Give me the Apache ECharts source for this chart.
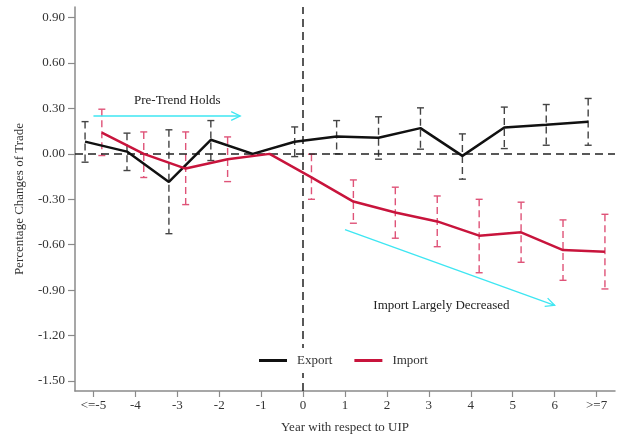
<!DOCTYPE html>
<html>
<head>
<meta charset="utf-8">
<script src="https://cdn.jsdelivr.net/npm/echarts@6/dist/echarts.min.js"></script>
<style>
  html, body { margin: 0; padding: 0; background: #fff; }
  #chart { width: 617px; height: 439px; }
</style>
</head>
<body>
<div id="chart"></div>
<script>
// Event-study estimates: years relative to UIP
const years = [-5, -4, -3, -2, -1, 0, 1, 2, 3, 4, 5, 6, 7];
const yearLabels = ['<=-5', '-4', '-3', '-2', '-1', '0', '1', '2', '3', '4', '5', '6', '>=7'];
const yTicks = [-1.5, -1.2, -0.9, -0.6, -0.3, 0, 0.3, 0.6, 0.9];

// Export coefficients with confidence bounds (reference year -1 has none)
const exportCoef = [0.081, 0.015, -0.185, 0.093, 0, 0.080, 0.114, 0.106, 0.170, -0.013, 0.174, 0.192, 0.212];
const exportLo   = [-0.055, -0.110, -0.527, -0.044, null, -0.018, 0.000, -0.035, 0.031, -0.167, 0.035, 0.057, 0.057];
const exportHi   = [0.213, 0.137, 0.159, 0.220, null, 0.178, 0.220, 0.245, 0.304, 0.132, 0.309, 0.326, 0.366];

// Import coefficients with confidence bounds
const importCoef = [0.141, 0.000, -0.097, -0.035, 0, -0.155, -0.315, -0.387, -0.446, -0.540, -0.518, -0.635, -0.646];
const importLo   = [-0.011, -0.156, -0.335, -0.183, null, -0.300, -0.458, -0.557, -0.613, -0.785, -0.716, -0.835, -0.892];
const importHi   = [0.295, 0.145, 0.145, 0.112, null, -0.002, -0.172, -0.220, -0.278, -0.300, -0.319, -0.436, -0.399];

// Annotation arrows (data coordinates) and their captions
const trendArrow = [[-5, 0.25], [-1.5, 0.25]];
const declineArrow = [[1, -0.5], [6, -1.0]];
const notes = [
  { text: 'Pre-Trend Holds', at: [-3.0, 0.35] },
  { text: 'Import Largely Decreased', at: [3.3, -1.0] }
];

// Horizontal dodge so the two series' intervals do not overlap
const exportShift = -0.2;
const importShift = 0.2;

const FONT = '"Liberation Serif", "DejaVu Serif", serif';
const TEXT = '#333';
const EXPORT_LINE = '#111111';
const IMPORT_LINE = '#c8143c';
const EXPORT_BAR = '#444444';
const IMPORT_BAR = '#df5378';
const ARROW = '#3ee6f2';

function linePoints(coef, shift) {
  return years.map((x, i) => [x + shift, coef[i]]);
}
function barRows(lo, hi, shift) {
  const rows = [];
  years.forEach((x, i) => {
    if (lo[i] !== null && hi[i] !== null) rows.push([x + shift, lo[i], hi[i]]);
  });
  return rows;
}

function errorBarSeries(rows, color) {
  return {
    type: 'custom',
    silent: true,
    z: 3,
    data: rows,
    renderItem: function (params, api) {
      const top = api.coord([api.value(0), api.value(2)]);
      const bot = api.coord([api.value(0), api.value(1)]);
      const hw = 3.5;
      const dashed = { stroke: color, lineWidth: 1.4, lineDash: [7, 4] };
      const solid = { stroke: color, lineWidth: 1.4 };
      return {
        type: 'group',
        children: [
          { type: 'line', shape: { x1: top[0], y1: top[1], x2: bot[0], y2: bot[1] }, style: dashed },
          { type: 'line', shape: { x1: top[0] - hw, y1: top[1], x2: top[0] + hw, y2: top[1] }, style: solid },
          { type: 'line', shape: { x1: bot[0] - hw, y1: bot[1], x2: bot[0] + hw, y2: bot[1] }, style: solid }
        ]
      };
    }
  };
}

function arrowSeries(arrows) {
  return {
    type: 'custom',
    silent: true,
    z: 4,
    data: arrows.map(a => [a[0][0], a[0][1], a[1][0], a[1][1]]),
    renderItem: function (params, api) {
      const p0 = api.coord([api.value(0), api.value(1)]);
      const p1 = api.coord([api.value(2), api.value(3)]);
      const ang = Math.atan2(p1[1] - p0[1], p1[0] - p0[0]);
      const len = 10, spread = 0.45;
      const a1 = [p1[0] - len * Math.cos(ang - spread), p1[1] - len * Math.sin(ang - spread)];
      const a2 = [p1[0] - len * Math.cos(ang + spread), p1[1] - len * Math.sin(ang + spread)];
      const style = { stroke: ARROW, lineWidth: 1.3, fill: null };
      return {
        type: 'group',
        children: [
          { type: 'line', shape: { x1: p0[0], y1: p0[1], x2: p1[0], y2: p1[1] }, style: style },
          { type: 'polyline', shape: { points: [a1, p1, a2] }, style: style }
        ]
      };
    }
  };
}

function noteSeries(items) {
  return {
    type: 'custom',
    silent: true,
    z: 4,
    data: items.map(n => [n.at[0], n.at[1]]),
    renderItem: function (params, api) {
      const p = api.coord([api.value(0), api.value(1)]);
      return {
        type: 'text',
        x: p[0], y: p[1],
        style: {
          text: items[params.dataIndex].text,
          fill: '#222',
          font: '13px ' + FONT,
          align: 'center',
          verticalAlign: 'middle'
        }
      };
    }
  };
}

const chart = echarts.init(document.getElementById('chart'), null, { renderer: 'canvas' });

chart.setOption({
  backgroundColor: '#fff',
  animation: false,
  textStyle: { fontFamily: FONT },
  grid: { left: 75, right: 2, top: 7, bottom: 48, containLabel: false },
  legend: {
    left: 250,
    top: 348,
    z: 20,
    itemWidth: 28,
    itemHeight: 3,
    itemGap: 22,
    icon: 'rect',
    backgroundColor: '#fff',
    padding: [6, 8, 6, 9],
    textStyle: { fontFamily: FONT, fontSize: 13, color: TEXT, padding: [0, 0, 0, 5] },
    data: [
      { name: 'Export', itemStyle: { color: EXPORT_LINE } },
      { name: 'Import', itemStyle: { color: IMPORT_LINE } }
    ]
  },
  xAxis: {
    type: 'value',
    min: -5.44,
    max: 7.44,
    name: 'Year with respect to UIP',
    nameLocation: 'middle',
    nameGap: 30,
    nameTextStyle: { fontFamily: FONT, fontSize: 13, color: TEXT },
    axisLine: { onZero: false, lineStyle: { color: '#8a8a8a', width: 1.5 } },
    axisTick: { show: true, length: 6, customValues: years, lineStyle: { color: '#8a8a8a', width: 1.2 } },
    axisLabel: {
      customValues: years,
      margin: 8,
      fontFamily: FONT, fontSize: 13, color: TEXT,
      formatter: function (v) {
        const i = years.indexOf(Math.round(v));
        return i >= 0 ? yearLabels[i] : '';
      }
    },
    splitLine: { show: false }
  },
  yAxis: {
    type: 'value',
    min: -1.566,
    max: 0.97,
    name: 'Percentage Changes of Trade',
    nameLocation: 'middle',
    nameGap: 49,
    nameTextStyle: { fontFamily: FONT, fontSize: 13, color: TEXT },
    axisLine: { show: true, onZero: false, lineStyle: { color: '#8a8a8a', width: 1.5 } },
    axisTick: { show: true, length: 7, customValues: yTicks, lineStyle: { color: '#8a8a8a', width: 1.2 } },
    axisLabel: {
      customValues: yTicks,
      margin: 10,
      fontFamily: FONT, fontSize: 13, color: TEXT,
      formatter: function (v) { return (Math.round(v * 100) / 100).toFixed(2); }
    },
    splitLine: { show: false }
  },
  series: [
    {
      // zero reference lines
      type: 'line',
      data: [],
      silent: true,
      z: 1,
      markLine: {
        silent: true,
        symbol: ['none', 'none'],
        label: { show: false },
        animation: false,
        lineStyle: { color: '#222', width: 1.5, type: [8, 5] },
        data: [{ yAxis: 0 }, { xAxis: 0 }]
      }
    },
    errorBarSeries(barRows(exportLo, exportHi, exportShift), EXPORT_BAR),
    errorBarSeries(barRows(importLo, importHi, importShift), IMPORT_BAR),
    {
      name: 'Export',
      type: 'line',
      z: 5,
      showSymbol: false,
      symbol: 'none',
      data: linePoints(exportCoef, exportShift),
      lineStyle: { color: EXPORT_LINE, width: 2.5 },
      itemStyle: { color: EXPORT_LINE }
    },
    {
      name: 'Import',
      type: 'line',
      z: 5,
      showSymbol: false,
      symbol: 'none',
      data: linePoints(importCoef, importShift),
      lineStyle: { color: IMPORT_LINE, width: 2.5 },
      itemStyle: { color: IMPORT_LINE }
    },
    arrowSeries([trendArrow, declineArrow]),
    noteSeries(notes)
  ]
});
</script>
</body>
</html>
